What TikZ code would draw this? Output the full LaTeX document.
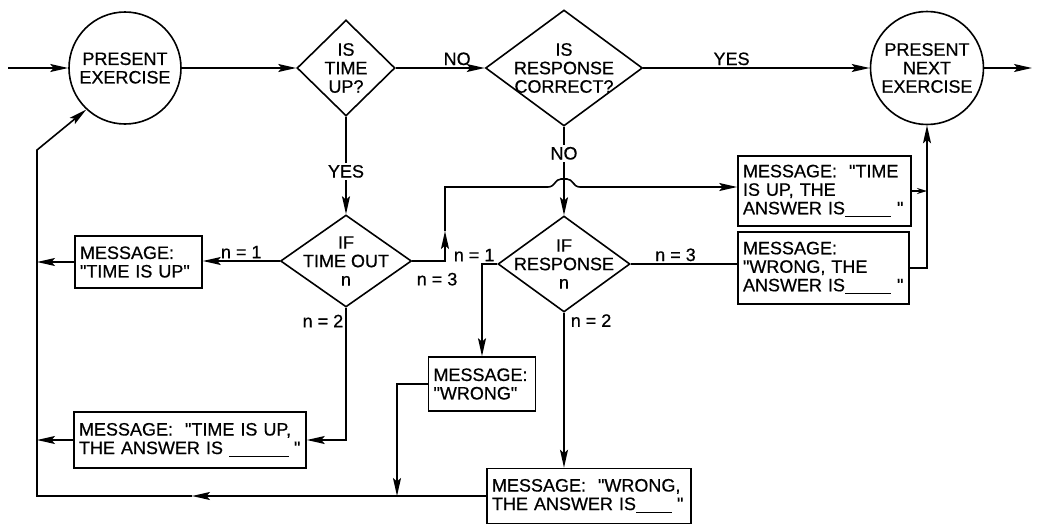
\documentclass[tikz,border=0pt]{standalone}
\usepackage{fontspec}
\setmainfont{Liberation Sans}[Ligatures=TeXOff, FakeBold=0.6]
\usetikzlibrary{shapes.geometric, arrows.meta}

\newcommand{\answerline}[1]{\rule[-3pt]{#1}{1.2pt}}

\tikzset{
    >={Stealth[length=18pt, width=8pt, inset=3.5pt]},
    base/.style={draw, line width=1.6pt, inner sep=0pt},
    circ/.style={base, circle, minimum size=#1, align=center},
    dec/.style 2 args={base, diamond, minimum width=#1, minimum height=#2},
    msg/.style 2 args={base, rectangle, inner sep=5pt, text width=#1, minimum height=#2, align=left},
    tag/.style={inner sep=2pt}
}

\begin{document}
\begin{tikzpicture}[x=1pt, y=-1pt, line width=1.6pt,
    every node/.style={font=\fontsize{18}{18.5}\selectfont}]
    \useasboundingbox (0,0) rectangle (1037,525);

    % Main line
    \node[circ=112pt] (pe) at (125,68) {PRESENT\\EXERCISE};
    \node[dec={98pt}{96pt}, label={[align=center]center:IS\\TIME\\UP?}] (tu) at (346,68) {};
    \node[dec={157pt}{116pt}, label={[align=center]center:IS\\RESPONSE\\CORRECT?}] (rc) at (564,68) {};
    \node[circ=113pt] (pn) at (927,68) {PRESENT\\NEXT\\EXERCISE};

    % Second level decisions
    \node[dec={131pt}{92pt}, label={[align=center]center:IF\\TIME OUT\\n}] (to) at (346,261) {};
    \node[dec={132pt}{96pt}, label={[align=center]center:IF\\RESPONSE\\n}] (rs) at (564,264) {};

    % Messages
    \node[msg={117pt}{52pt}] (tiu1) at (138.5,262) {MESSAGE:\\"TIME IS UP"};
    \node[msg={222pt}{56pt}] (tiu2) at (190,440) {MESSAGE: \ "TIME IS UP,\\\mbox{THE ANSWER IS \answerline{60pt}\hspace{5pt}"}};
    \node[msg={163pt}{70pt}] (ta) at (824.5,191) {MESSAGE: \ "TIME\\IS UP, THE\\\mbox{ANSWER IS\answerline{46pt}\hspace{6pt}"}};
    \node[msg={161pt}{72pt}] (wa) at (823.5,268) {MESSAGE:\\"WRONG, THE\\\mbox{ANSWER IS\answerline{46pt}\hspace{6pt}"}};
    \node[msg={97pt}{54pt}] (wr) at (482,384) {MESSAGE:\\"WRONG"};
    \node[msg={194pt}{55pt}] (wa2) at (589,496) {MESSAGE: \ "WRONG,\\\mbox{THE ANSWER IS\answerline{36pt}\hspace{5pt}"}};

    % Free ends and bends
    \coordinate (in) at (8,68);
    \coordinate (out) at (1032,68);
    \coordinate (rb) at (37,496);
    \coordinate (rt) at (37,150);
    \coordinate (ma) at (192,496);
    \coordinate (jn) at (397,496);
    \coordinate (upm) at (445,231);
    \coordinate (upt) at (445,187);

    % Top row
    \draw[->] (in) -- (pe);
    \draw[->] (pe) -- (tu);
    \draw[->] (tu.east) -- node[tag, above, pos=0.69] {NO} (rc.west);
    \draw[->] (rc.east) -- node[tag, above, pos=0.39] {YES} (pn.west);
    \draw[->] (pn.east) -- (out);
    \draw[->] (tu.south) -- node[tag, fill=white, pos=0.56] {YES} (to.north);
    \draw[->] (rc.south) -- node[tag, fill=white, pos=0.3] {NO} (rs.north);

    % Time out branches
    \draw[->] (to.west) -- node[tag, above] {n = 1} (to.west -| tiu1.east);
    \draw[->] (to.south) |- node[tag, left, pos=0.05] {n = 2} (tiu2.east);
    \draw[->] (to.east) -| (upm);
    \draw[->] (upm) -- (upt) -- (548,187) .. controls (555,187) and (555,179) .. (561,179)
        -- (567,179) .. controls (573,179) and (573,187) .. (580,187) -- (ta.west |- upt);
    \node[tag, anchor=north west] (n3a) at (414,270) {n = 3};

    % Response branches
    \draw[->] (rs.west) -| (wr.north);
    \node[tag, anchor=south east] (n1b) at (rs.west) {n = 1};
    \draw[->] (rs.south) -- node[tag, right, pos=0.05, xshift=4pt] {n = 2} (rs.south |- wa2.north);
    \draw (rs.east) -- node[tag, above, pos=0.42] {n = 3} (rs.east -| wa.west);

    % Back to the next exercise
    \draw[-{Stealth[length=10pt, width=6pt]}] (ta.east) -- (ta.east -| pn.south);
    \draw[->] (wa.east) -| (pn.south);

    % Back to the same exercise
    \draw[->] (tiu1.west) -- (tiu1.west -| rb);
    \draw[->] (tiu2.west) -- (tiu2.west -| rb);
    \draw[->] (wr.west) -| (jn);
    \draw[->] (wa2.west) -- (ma);
    \draw[->] (ma) -- (rb) -- (rt) -- (pe.227);
\end{tikzpicture}
\end{document}
